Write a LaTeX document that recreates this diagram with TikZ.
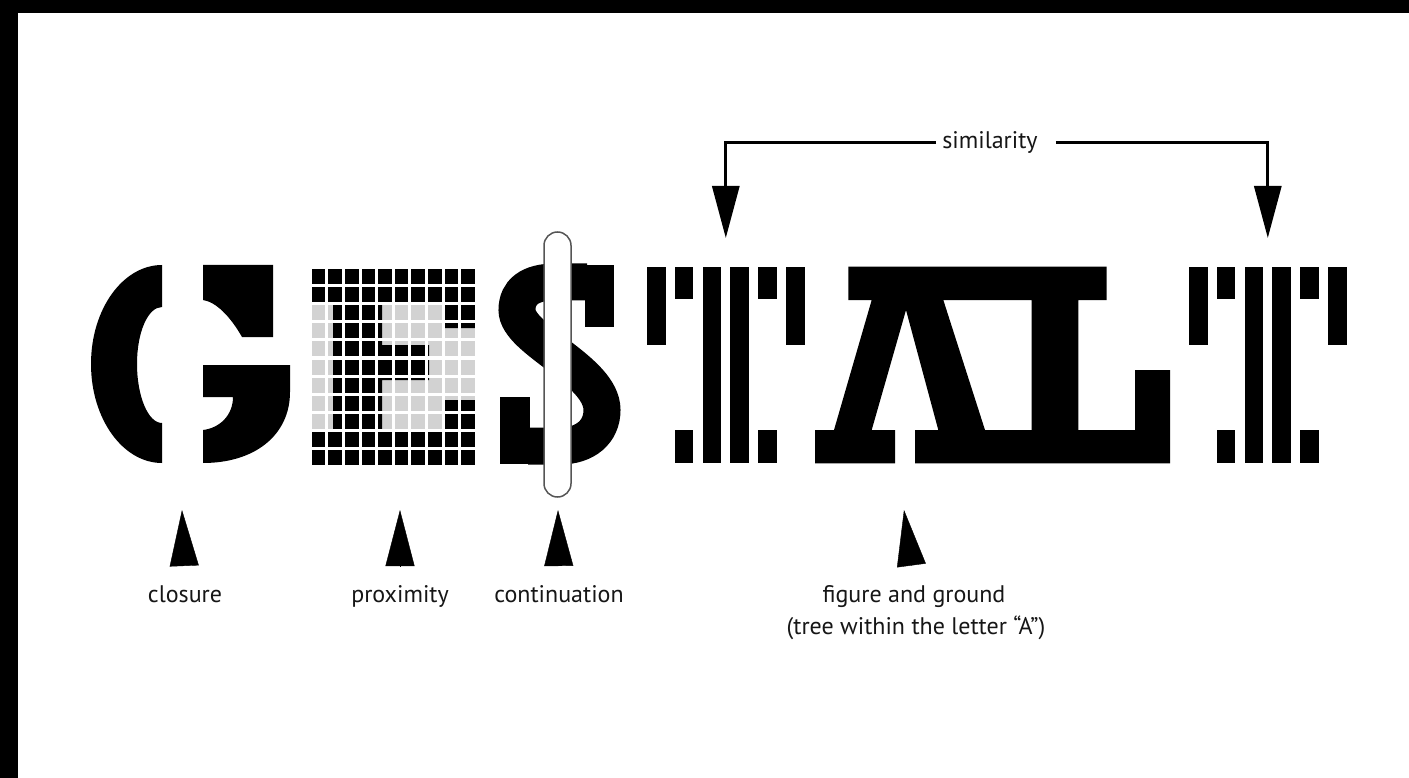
\documentclass[tikz,border=0pt]{standalone}
\usepackage{fontspec}
\setmainfont{PT Sans}
\usetikzlibrary{arrows.meta}
\definecolor{cellcolor}{HTML}{D2D2D2}
\definecolor{labelcolor}{HTML}{161616}
\definecolor{clipcolor}{HTML}{555555}
\tikzset{
  gst ink/.style={fill=black},
  gst cell/.style={fill=cellcolor},
  gst label/.style={text=labelcolor,font=\fontsize{24}{32}\selectfont,inner sep=0pt,text height=17pt,text depth=5pt},
  gst pointer/.style={draw=black,line width=.4pt,shorten <=19pt,-{Triangle[length=56pt,width=29pt]}},
  gst bracket/.style={draw=black,line width=3pt,-{Triangle[length=52pt,width=27pt]}},
  gst clip/.style={draw=clipcolor,line width=1.5pt,fill=white,rounded corners=13.5pt}
}

\begin{document}
\begin{tikzpicture}[x=1pt,y=-1pt]
  \useasboundingbox (0,0) rectangle (1409,778);
  \fill[white] (0,0) rectangle (1409,778);
  \fill[black] (0,0) rectangle (18,778);
  \fill[black] (0,0) rectangle (1409,13);
  % G, cut in three
  \fill[gst ink] (162,265) -- (162,307) .. controls (148,307) and (137,332) .. (137,364)
    .. controls (137,396) and (148,423) .. (162,423) -- (162,463)
    .. controls (123,463) and (91,419) .. (91,364) .. controls (91,309) and (123,265) .. (162,265) -- cycle;
  \fill[gst ink] (203,265) -- (273,265) -- (273,337) -- (242,337) .. controls (230,316) and (216,302) .. (203,300) -- cycle;
  \fill[gst ink] (203,365) -- (290,365) -- (290,392) .. controls (290,435) and (255,463) .. (203,463) -- (203,430)
    .. controls (220,428) and (233,415) .. (233,397) -- (203,397) -- cycle;
  % E on the grid
  \foreach \r in {0,...,10}{\foreach \c in {0,...,9}{\fill[gst cell] ({311.7+16.6*\c},{269+18.1*\r}) rectangle ++(13.6,15);}}
  \begin{scope}
    \clip (300,255) -- (480,255) -- (480,328) -- (442,328) -- (442,303.5) -- (382,303.5) -- (382,345) -- (429,345)
      -- (429,380) -- (382,380) -- (382,430) -- (442,430) -- (442,400) -- (480,400) -- (480,470)
      -- (300,470) -- (300,430) -- (333,430) -- (333,303.5) -- (300,303.5) -- cycle;
    \foreach \r in {0,...,10}{\foreach \c in {0,...,9}{\fill[gst ink] ({311.7+16.6*\c},{269+18.1*\r}) rectangle ++(13.6,15);}}
  \end{scope}
  % S and the capsule
  \draw[line width=37pt] (587,282) -- (555,282) .. controls (530,282) and (517,292) .. (517,310)
    .. controls (517,340) and (602,370) .. (602,410) .. controls (602,432) and (585,446) .. (560,446) -- (528,446);
  \fill[gst ink] (585,265) rectangle (614,327);
  \fill[gst ink] (500,397) rectangle (530,464);
  \filldraw[gst clip] (544,232) rectangle (571,497);
  % striped T's
  \foreach \tx in {646.7,1188.7}{
    \foreach \k in {0,5}{\fill[gst ink] ({\tx+27.9*\k},266.7) rectangle ++(18.8,78.3);}
    \foreach \k in {1,4}{\fill[gst ink] ({\tx+27.9*\k},266.7) rectangle ++(18.8,32.6);
      \fill[gst ink] ({\tx+27.9*\k},430) rectangle ++(18.8,33.3);}
    \foreach \k in {2,3}{\fill[gst ink] ({\tx+27.9*\k},266.7) rectangle ++(18.8,196.6);}
  }
  % A and L with the tree
  \fill[gst ink,even odd rule] (848.3,266.7) -- (1106.7,266.7) -- (1106.7,300) -- (1078.3,300) -- (1078.3,430)
    -- (1135,430) -- (1135,370) -- (1170,370) -- (1170,463.3) -- (915,463.3) -- (915,430) -- (938.3,430)
    -- (906,310) -- (871.7,430) -- (895,430) -- (895,463.3) -- (815,463.3) -- (815,430) -- (834,430)
    -- (871.7,300) -- (848.3,300) -- cycle
    (943.3,300) -- (1031.7,300) -- (1031.7,430) -- (985,430) -- cycle;
  % labels
  \node[gst label,anchor=base] (closure) at (185,602) {closure};
  \node[gst label,anchor=base] (proximity) at (400,602) {proximity};
  \node[gst label,anchor=base] (continuation) at (559,602) {continuation};
  \node[gst label,anchor=base] (figure) at (914,602) {figure and ground};
  \node[gst label,anchor=base] (figurenote) at (916,634) {(tree within the letter “A”)};
  \coordinate (closuretip) at (182,510);
  \coordinate (proximitytip) at (400,510);
  \coordinate (continuationtip) at (558,510);
  \coordinate (figuretip) at (904,510);
  \draw[gst pointer] (closure.north) -- (closuretip);
  \draw[gst pointer] (proximity.north) -- (proximitytip);
  \draw[gst pointer] (continuation.north) -- (continuationtip);
  \draw[gst pointer] (figure.north) -- (figuretip);
  % similarity bracket
  \node[gst label,inner xsep=6pt] (sim) at (990,143) {similarity};
  \coordinate (lefttop) at (725.8,238);
  \coordinate (righttop) at (1267.8,238);
  \draw[gst bracket] (sim.west) -| (lefttop);
  \draw[gst bracket,shorten <=12pt] (sim.east) -| (righttop);
\end{tikzpicture}
\end{document}
